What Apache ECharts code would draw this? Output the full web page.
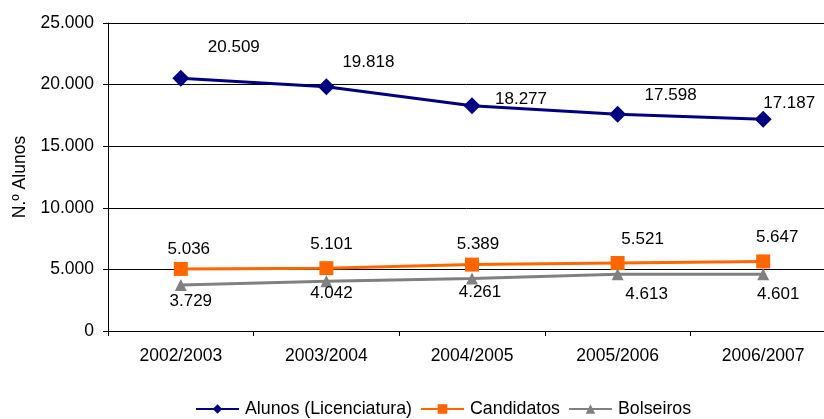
<!DOCTYPE html>
<html><head><meta charset="utf-8">
<script src="https://cdn.jsdelivr.net/npm/echarts@6/dist/echarts.min.js"></script>
<style>html,body{margin:0;padding:0;background:#fff}#c{width:824px;height:419px}</style>
</head><body><div id="c"></div>
<script>
const categories = ['2002/2003','2003/2004','2004/2005','2005/2006','2006/2007'];
const alunos = [20509, 19818, 18277, 17598, 17187];
const candidatos = [5036, 5101, 5389, 5521, 5647];
const bolseiros = [3729, 4042, 4261, 4613, 4601];
const yTicks = [0, 5000, 10000, 15000, 20000, 25000];

// label offsets (pixel style, not data)
const alunosOff = [[53,-31],[42,-25],[49,-7],[53,-19],[26,-16]];
const candOff = [[8,-20],[5,-24],[6,-20],[25,-24],[14,-24]];
const bolsOff = [[10,16],[5,12],[8,14],[29,20],[15,20]];

const fmt = v => String(v).replace(/\B(?=(\d{3})+(?!\d))/g, '.');
const font = 'Liberation Sans, Arial, sans-serif';

function items(vals, offs){
  return vals.map((v,i)=>({value:v, label:{show:true, position:'inside', offset:offs[i], formatter:p=>fmt(p.value), color:'#000', fontSize:17, fontFamily:font}}));
}

const chart = echarts.init(document.getElementById('c'));
chart.setOption({
  animation:false,
  textStyle:{fontFamily:font},
  grid:{left:108, top:23, width:728, height:308, containLabel:false, outerBoundsMode:'none'},
  xAxis:{type:'category', data:categories, boundaryGap:true,
    axisLine:{lineStyle:{color:'#000', width:1}},
    axisTick:{show:true, length:5, lineStyle:{color:'#000'}},
    axisLabel:{color:'#000', fontSize:17.5, fontFamily:font, margin:16}},
  yAxis:{type:'value', min:0, max:25000, interval:5000,
    name:'N.º Alunos', nameLocation:'middle', nameGap:78, nameRotate:90,
    nameTextStyle:{color:'#000', fontSize:17.5, fontFamily:font},
    axisLine:{show:true, lineStyle:{color:'#000'}},
    axisTick:{show:true, length:5, lineStyle:{color:'#000'}},
    axisLabel:{color:'#000', fontSize:17.5, fontFamily:font, margin:14, formatter:v=>fmt(v)},
    splitLine:{lineStyle:{color:'#000', width:1}}},
  legend:{top:400, left:195, padding:0, itemWidth:43, itemHeight:12, itemGap:8,
    textStyle:{color:'#000', fontSize:17.8, fontFamily:font, padding:[0,0,0,1]},
    data:['Alunos (Licenciatura)','Candidatos','Bolseiros']},
  series:[
    {name:'Alunos (Licenciatura)', type:'line', data:items(alunos, alunosOff), symbol:'diamond', symbolSize:17,
      lineStyle:{color:'#000080', width:3}, itemStyle:{color:'#000080'}},
    {name:'Candidatos', type:'line', data:items(candidatos, candOff), symbol:'rect', symbolSize:14,
      lineStyle:{color:'#FF6600', width:3}, itemStyle:{color:'#FF6600'}},
    {name:'Bolseiros', type:'line', data:items(bolseiros, bolsOff), symbol:'triangle', symbolSize:12,
      lineStyle:{color:'#808080', width:3}, itemStyle:{color:'#808080'}}
  ]
});
</script></body></html>
